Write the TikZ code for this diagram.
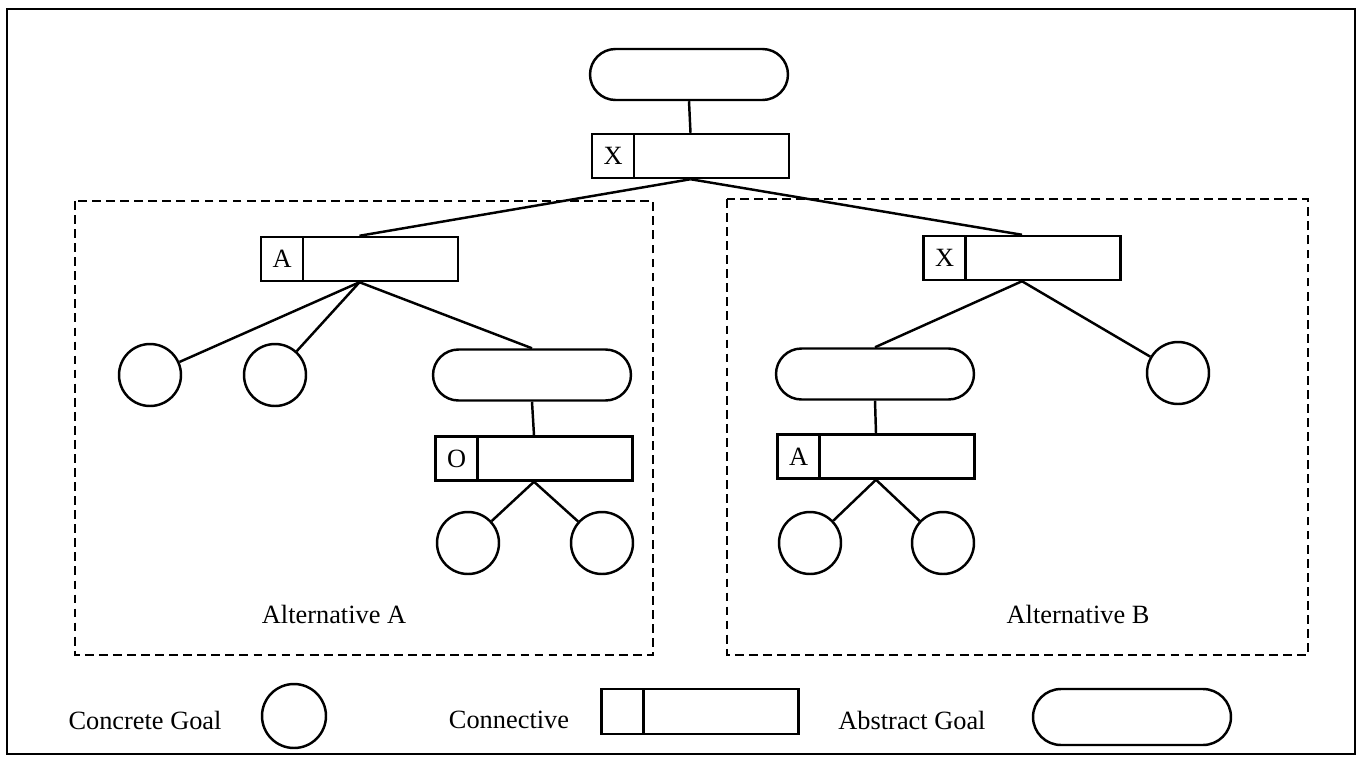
\documentclass[tikz,border=0pt]{standalone}
\usepackage{fontspec}
\setmainfont{Liberation Serif}
\usetikzlibrary{shapes.misc}

\tikzset{
  every node/.style={font=\fontsize{15}{18}\selectfont},
  conn/.style={draw, line width=1.4pt, minimum width=3.94cm, minimum height=0.88cm, inner sep=0pt},
  cell/.style={draw, line width=1.4pt, anchor=west, minimum width=0.84cm, minimum height=0.88cm, inner sep=0pt},
  goal/.style={draw, line width=1.4pt, circle, minimum size=1.24cm, inner sep=0pt},
  agoal/.style={draw, line width=1.4pt, rounded rectangle, minimum width=3.96cm, minimum height=1.02cm, inner sep=0pt},
  link/.style={line width=1.4pt},
  altbox/.style={line width=1.4pt, dash pattern=on 5pt off 3pt},
}

\begin{document}
\begin{tikzpicture}[x=0.02cm, y=-0.02cm]
    \useasboundingbox (0, 0) rectangle (1363, 758);

    % frame
    \draw [line width=1.1pt] (7, 9) rectangle (1355, 754);

    % alternatives
    \draw [altbox] (75, 201) rectangle (653, 655);
    \draw [altbox] (727, 199) rectangle (1308, 655);
    \node (labA) at (334, 614) {Alternative A};
    \node (labB) at (1078, 614) {Alternative B};

    % root
    \node [agoal] (root) at (689, 74.5) {};
    \node [conn] (x0) at (690.5, 156) {};
    \node [cell] (x0c) at (x0.west) {X};
    \draw [link] (root.south) -- (x0.north);

    % alternative A
    \node [conn] (a1) at (359.5, 259) {};
    \node [cell] (a1c) at (a1.west) {A};
    \node [goal] (ga1) at (150, 375) {};
    \node [goal] (ga2) at (275, 375) {};
    \node [agoal] (aa) at (532, 375) {};
    \node [conn] (o1) at (534, 458.5) {};
    \node [cell] (o1c) at (o1.west) {O};
    \node [goal] (ga3) at (468, 543) {};
    \node [goal] (ga4) at (602, 543) {};

    \draw [link] (x0.south) -- (a1.north);
    \draw [link] (a1.south) -- (ga1);
    \draw [link] (a1.south) -- (ga2);
    \draw [link] (a1.south) -- (aa.north);
    \draw [link] (aa.south) -- (o1.north);
    \draw [link] (o1.south) -- (ga3);
    \draw [link] (o1.south) -- (ga4);

    % alternative B
    \node [conn] (x1) at (1022, 258) {};
    \node [cell] (x1c) at (x1.west) {X};
    \node [agoal] (ab) at (875, 374) {};
    \node [goal] (gb1) at (1178, 373) {};
    \node [conn] (b1) at (876, 456.5) {};
    \node [cell] (b1c) at (b1.west) {A};
    \node [goal] (gb2) at (810, 543) {};
    \node [goal] (gb3) at (943, 543) {};

    \draw [link] (x0.south) -- (x1.north);
    \draw [link] (x1.south) -- (ab.north);
    \draw [link] (x1.south) -- (gb1);
    \draw [link] (ab.south) -- (b1.north);
    \draw [link] (b1.south) -- (gb2);
    \draw [link] (b1.south) -- (gb3);

    % legend
    \node (lg1) at (145, 720) {Concrete Goal};
    \node [goal, minimum size=1.28cm] (lgc) at (294, 716) {};
    \node (lg2) at (509, 720) {Connective};
    \node [conn, minimum height=0.9cm] (lgx) at (700, 711.5) {};
    \node [cell, minimum height=0.9cm] (lgxc) at (lgx.west) {};
    \node (lg3) at (912, 720) {Abstract Goal};
    \node [agoal, minimum height=1.12cm] (lga) at (1132, 717) {};
\end{tikzpicture}
\end{document}
